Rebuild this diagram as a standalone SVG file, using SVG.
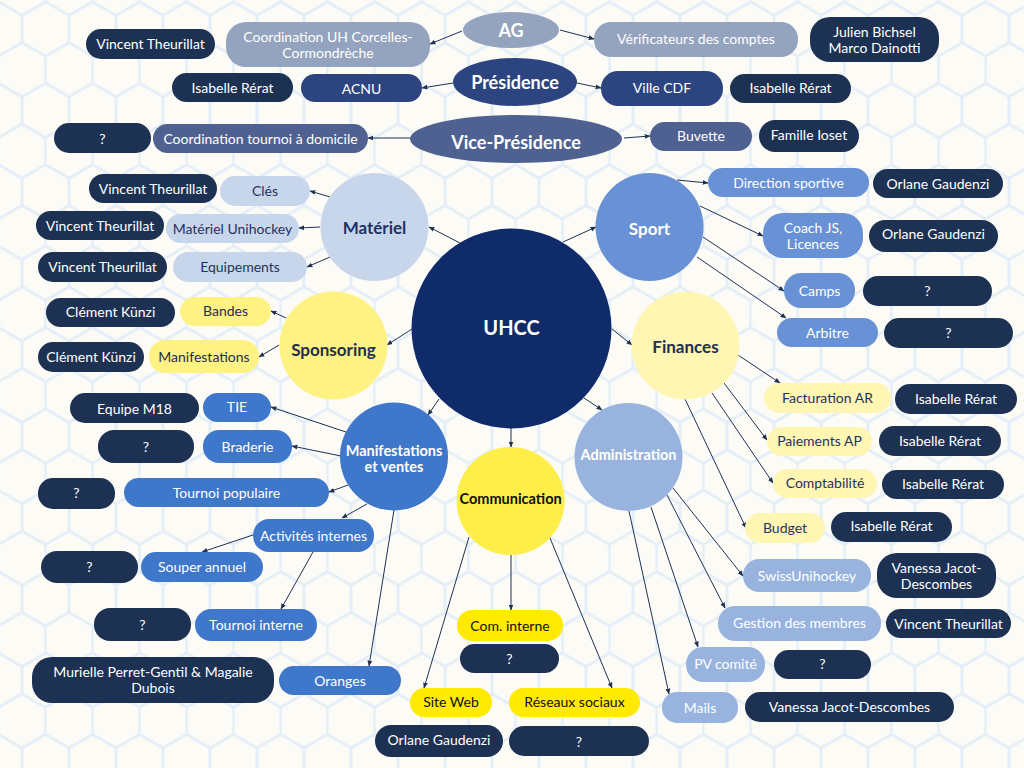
<svg xmlns="http://www.w3.org/2000/svg" width="1024" height="768" viewBox="0 0 1024 768">
<defs>
<pattern id="hex" width="47" height="81.4" patternUnits="userSpaceOnUse" patternTransform="translate(-1.5,29)">
<g fill="none" stroke="#e3eef8" stroke-width="2.5">
<path d="M0,-27.13 L23.5,-13.57 L23.5,13.57 L0,27.13 L-23.5,13.57 L-23.5,-13.57 Z"/>
<path d="M47,-27.13 L70.5,-13.57 L70.5,13.57 L47,27.13 L23.5,13.57 L23.5,-13.57 Z"/>
<path d="M0,54.27 L23.5,67.83 L23.5,94.97 L0,108.53 L-23.5,94.97 L-23.5,67.83 Z"/>
<path d="M47,54.27 L70.5,67.83 L70.5,94.97 L47,108.53 L23.5,94.97 L23.5,67.83 Z"/>
<path d="M23.5,13.57 L47,27.13 L47,54.27 L23.5,67.83 L0,54.27 L0,27.13 Z"/>
</g>
</pattern>
<marker id="a" viewBox="0 0 10 10" refX="9" refY="5" markerWidth="6" markerHeight="6" orient="auto" markerUnits="userSpaceOnUse">
<path d="M0,1 L10,5 L0,9 Z" fill="#1e3254"/>
</marker>
<style>
text{font-family:Lato,"DejaVu Sans",sans-serif;font-size:14px;text-anchor:middle;dominant-baseline:central}
.w{fill:#ffffff}.d{fill:#1f3263}.k{fill:#111111}
.b{font-weight:700;font-size:14.5px}
.h{font-size:17px;font-weight:700}
.e{font-size:18px;font-weight:700}
.p{fill:#1d3153}
.ag{fill:#94a3be}.pr{fill:#2c4580}.vp{fill:#4f6190}
.ma{fill:#c8d6ec}.sp{fill:#fef283}.so{fill:#6892d5}.fi{fill:#fff6b3}
.mv{fill:#3f77ca}.co{fill:#fdee4a}.ci{fill:#ffea00}.ad{fill:#98b4de}
#connectors line{stroke:#1e3254;stroke-width:1;marker-end:url(#a)}
</style>
</defs>
<rect width="1024" height="768" fill="#fdfbf6"/>
<rect width="1024" height="768" fill="url(#hex)"/>

<g id="connectors">
<line x1="462" y1="31" x2="430" y2="44"/>
<line x1="560" y1="30" x2="594" y2="39"/>
<line x1="453" y1="83" x2="422" y2="88"/>
<line x1="577" y1="83" x2="601" y2="88"/>
<line x1="410" y1="138" x2="368" y2="138"/>
<line x1="624" y1="138" x2="650" y2="136"/>
<line x1="460" y1="243" x2="429" y2="227"/>
<line x1="563" y1="242" x2="596" y2="227"/>
<line x1="412" y1="329" x2="387" y2="345"/>
<line x1="612" y1="329" x2="632" y2="345"/>
<line x1="439" y1="399" x2="428" y2="415"/>
<line x1="511" y1="428" x2="511" y2="447"/>
<line x1="584" y1="398" x2="602" y2="410"/>
<line x1="330" y1="197" x2="310" y2="191"/>
<line x1="320" y1="227" x2="299" y2="228"/>
<line x1="330" y1="257" x2="307" y2="267"/>
<line x1="286" y1="318" x2="271" y2="311"/>
<line x1="279" y1="345" x2="259" y2="357"/>
<line x1="677" y1="180" x2="708" y2="183"/>
<line x1="700" y1="206" x2="763" y2="236"/>
<line x1="703" y1="237" x2="784" y2="291"/>
<line x1="697" y1="257" x2="786" y2="318"/>
<line x1="738" y1="355" x2="780" y2="383"/>
<line x1="724" y1="383" x2="767" y2="440"/>
<line x1="712" y1="393" x2="773" y2="483"/>
<line x1="685" y1="399" x2="746" y2="528"/>
<line x1="673" y1="488" x2="743" y2="576"/>
<line x1="667" y1="495" x2="725" y2="608"/>
<line x1="651" y1="507" x2="698" y2="647"/>
<line x1="629" y1="511" x2="669" y2="694"/>
<line x1="511" y1="555" x2="511" y2="610"/>
<line x1="469" y1="537" x2="424" y2="688"/>
<line x1="550" y1="538" x2="612" y2="688"/>
<line x1="346" y1="432" x2="271" y2="407"/>
<line x1="341" y1="456" x2="292" y2="446"/>
<line x1="348" y1="485" x2="329" y2="492"/>
<line x1="367" y1="504" x2="342" y2="518"/>
<line x1="253" y1="535" x2="202" y2="552"/>
<line x1="313" y1="552" x2="281" y2="609"/>
<line x1="394" y1="510" x2="369" y2="666"/>
</g>

<g id="ag"><ellipse cx="511" cy="30" rx="48" ry="18" class="ag"/><text x="511" y="30" class="w e">AG</text></g>
<g id="presidence"><ellipse cx="515" cy="82" rx="62" ry="24" class="pr"/><text x="515" y="82" class="w e">Présidence</text></g>
<g id="vice-presidence"><ellipse cx="516" cy="139" rx="106" ry="24" class="vp"/><text x="516" y="142" class="w e">Vice-Présidence</text></g>

<g id="coord-uh"><rect x="226" y="22" width="204" height="45" rx="20" class="ag"/><text x="328" y="36" class="w">Coordination UH Corcelles-</text><text x="328" y="52" class="w">Cormondrèche</text></g>
<g id="vt-coord"><rect x="86" y="29" width="129" height="30" rx="15" class="p"/><text x="150.5" y="43" class="w">Vincent Theurillat</text></g>
<g id="ir-acnu"><rect x="172" y="73" width="121" height="29" rx="14.5" class="p"/><text x="232.5" y="87" class="w">Isabelle Rérat</text></g>
<g id="acnu"><rect x="301" y="74" width="121" height="28" rx="14" class="pr"/><text x="361.5" y="88" class="w">ACNU</text></g>
<g id="q-coord"><rect x="54" y="123" width="97" height="30" rx="15" class="p"/><text x="102.5" y="138" class="w">?</text></g>
<g id="coord-tournoi"><rect x="153" y="124" width="215" height="29" rx="14.5" class="vp"/><text x="260.5" y="138" class="w">Coordination tournoi à domicile</text></g>
<g id="verif"><rect x="594" y="22" width="204" height="35" rx="17" class="ag"/><text x="696" y="38" class="w">Vérificateurs des comptes</text></g>
<g id="jb-md"><rect x="810" y="17" width="129" height="45" rx="20" class="p"/><text x="874.5" y="31" class="w">Julien Bichsel</text><text x="874.5" y="47" class="w">Marco Dainotti</text></g>
<g id="ville-cdf"><rect x="601" y="71" width="122" height="35" rx="17" class="pr"/><text x="662" y="87" class="w">Ville CDF</text></g>
<g id="ir-ville"><rect x="730" y="74" width="121" height="29" rx="14.5" class="p"/><text x="790.5" y="87" class="w">Isabelle Rérat</text></g>
<g id="buvette"><rect x="650" y="122" width="102" height="29" rx="14.5" class="vp"/><text x="701" y="135" class="w">Buvette</text></g>
<g id="famille-ioset"><rect x="759" y="120" width="100" height="32" rx="16" class="p"/><text x="809" y="134" class="w">Famille Ioset</text></g>

<g id="uhcc"><circle cx="511.5" cy="328.5" r="100" fill="#0f2b69"/><text x="511.5" y="327" class="w h" style="font-size:20px">UHCC</text></g>

<g id="materiel"><circle cx="374.5" cy="227" r="54" class="ma"/><text x="374.5" y="227" class="d h">Matériel</text></g>
<g id="vt1"><rect x="89" y="174" width="128" height="29" rx="14.5" class="p"/><text x="153" y="188" class="w">Vincent Theurillat</text></g>
<g id="cles"><rect x="220" y="176" width="90" height="30" rx="15" class="ma"/><text x="265" y="190" class="d">Clés</text></g>
<g id="vt2"><rect x="36" y="211" width="128" height="29" rx="14.5" class="p"/><text x="100" y="225" class="w">Vincent Theurillat</text></g>
<g id="mat-uni"><rect x="166" y="214" width="133" height="29" rx="14.5" class="ma"/><text x="232.5" y="228" class="d">Matériel Unihockey</text></g>
<g id="vt3"><rect x="38" y="252" width="129" height="30" rx="15" class="p"/><text x="102.5" y="266" class="w">Vincent Theurillat</text></g>
<g id="equip"><rect x="173" y="252" width="134" height="30" rx="15" class="ma"/><text x="240" y="266" class="d">Equipements</text></g>

<g id="sponsoring"><circle cx="333.5" cy="345.5" r="54" class="sp"/><text x="333.5" y="349" class="h" fill="#1e2e4e">Sponsoring</text></g>
<g id="ck1"><rect x="46" y="298" width="129" height="29" rx="14.5" class="p"/><text x="110.5" y="311" class="w">Clément Künzi</text></g>
<g id="bandes"><rect x="180" y="297" width="91" height="29" rx="14.5" class="sp"/><text x="225.5" y="310" fill="#1e2e4e">Bandes</text></g>
<g id="ck2"><rect x="38" y="342" width="106" height="30" rx="15" class="p"/><text x="91" y="356" class="w">Clément Künzi</text></g>
<g id="manif-sp"><rect x="149" y="340" width="110" height="33" rx="16" class="sp"/><text x="204" y="356" fill="#1e2e4e">Manifestations</text></g>

<g id="sport"><circle cx="649.5" cy="227" r="54" class="so"/><text x="649.5" y="228" class="w h">Sport</text></g>
<g id="dir-sport"><rect x="708" y="168" width="161" height="29" rx="14.5" class="so"/><text x="788.5" y="182" class="w">Direction sportive</text></g>
<g id="og1"><rect x="873" y="169" width="130" height="29" rx="14.5" class="p"/><text x="938" y="183" class="w">Orlane Gaudenzi</text></g>
<g id="coach"><rect x="763" y="213" width="100" height="45" rx="20" class="so"/><text x="813" y="227" class="w">Coach JS,</text><text x="813" y="243" class="w">Licences</text></g>
<g id="og2"><rect x="869" y="220" width="129" height="32" rx="16" class="p"/><text x="933.5" y="233" class="w">Orlane Gaudenzi</text></g>
<g id="camps"><rect x="784" y="273" width="71" height="35" rx="17" class="so"/><text x="819.5" y="290" class="w">Camps</text></g>
<g id="q-camps"><rect x="863" y="276" width="129" height="30" rx="15" class="p"/><text x="927.5" y="290" class="w">?</text></g>
<g id="arbitre"><rect x="777" y="318" width="101" height="29" rx="14.5" class="so"/><text x="827.5" y="332" class="w">Arbitre</text></g>
<g id="q-arb"><rect x="884" y="318" width="129" height="30" rx="15" class="p"/><text x="948.5" y="332" class="w">?</text></g>

<g id="finances"><circle cx="685.5" cy="345.5" r="54" class="fi"/><text x="685.5" y="346" class="h" fill="#1e2e4e">Finances</text></g>
<g id="fact"><rect x="764" y="383" width="127" height="30" rx="15" class="fi"/><text x="827.5" y="397" class="d">Facturation AR</text></g>
<g id="ir-f1"><rect x="895" y="384" width="122" height="30" rx="15" class="p"/><text x="956" y="398" class="w">Isabelle Rérat</text></g>
<g id="paie"><rect x="767" y="427" width="105" height="29" rx="14.5" class="fi"/><text x="819.5" y="440" class="d">Paiements AP</text></g>
<g id="ir-f2"><rect x="879" y="426" width="122" height="30" rx="15" class="p"/><text x="940" y="440" class="w">Isabelle Rérat</text></g>
<g id="compta"><rect x="773" y="469" width="104" height="29" rx="14.5" class="fi"/><text x="825" y="482" class="d">Comptabilité</text></g>
<g id="ir-f3"><rect x="882" y="470" width="122" height="29" rx="14.5" class="p"/><text x="943" y="483" class="w">Isabelle Rérat</text></g>
<g id="budget"><rect x="745" y="513" width="80" height="30" rx="15" class="fi"/><text x="785" y="527" class="d">Budget</text></g>
<g id="ir-f4"><rect x="831" y="512" width="121" height="30" rx="15" class="p"/><text x="891.5" y="525" class="w">Isabelle Rérat</text></g>

<g id="administration"><circle cx="628.5" cy="457" r="54" class="ad"/><text x="628.5" y="454" class="w b">Administration</text></g>
<g id="swiss"><rect x="743" y="559" width="128" height="33" rx="16" class="ad"/><text x="807" y="575" class="w">SwissUnihockey</text></g>
<g id="vjd1"><rect x="877" y="553" width="119" height="45" rx="20" class="p"/><text x="936.5" y="567" class="w">Vanessa Jacot-</text><text x="936.5" y="583" class="w">Descombes</text></g>
<g id="gestion"><rect x="718" y="606" width="163" height="35" rx="17" class="ad"/><text x="799.5" y="622" class="w">Gestion des membres</text></g>
<g id="vt-adm"><rect x="886" y="609" width="125" height="29" rx="14.5" class="p"/><text x="948.5" y="623" class="w">Vincent Theurillat</text></g>
<g id="pv"><rect x="686" y="647" width="79" height="35" rx="17" class="ad"/><text x="725.5" y="663" class="w">PV comité</text></g>
<g id="q-pv"><rect x="774" y="650" width="97" height="29" rx="14.5" class="p"/><text x="822.5" y="663" class="w">?</text></g>
<g id="mails"><rect x="662" y="692" width="76" height="31" rx="15" class="ad"/><text x="700" y="707" class="w">Mails</text></g>
<g id="vjd2"><rect x="745" y="692" width="209" height="30" rx="15" class="p"/><text x="849.5" y="706" class="w">Vanessa Jacot-Descombes</text></g>

<g id="communication"><circle cx="510.6" cy="501" r="54" class="co"/><text x="510.6" y="498" class="k b">Communication</text></g>
<g id="com-int"><rect x="457" y="610" width="106" height="31" rx="15" class="ci"/><text x="510" y="625" class="k">Com. interne</text></g>
<g id="q-com"><rect x="460" y="644" width="99" height="29" rx="14.5" class="p"/><text x="509.5" y="658" class="w">?</text></g>
<g id="site"><rect x="410" y="688" width="82" height="29" rx="14.5" class="ci"/><text x="451" y="701" class="k">Site Web</text></g>
<g id="reseaux"><rect x="509" y="688" width="131" height="29" rx="14.5" class="ci"/><text x="574.5" y="701" class="k">Réseaux sociaux</text></g>
<g id="og-com"><rect x="375" y="725" width="128" height="32" rx="16" class="p"/><text x="439" y="739" class="w">Orlane Gaudenzi</text></g>
<g id="q-res"><rect x="509" y="726" width="140" height="30" rx="15" class="p"/><text x="579" y="741" class="w">?</text></g>

<g id="manifestations"><circle cx="394" cy="456.5" r="54" class="mv"/><text x="394" y="450" class="w b">Manifestations</text><text x="394" y="466" class="w b">et ventes</text></g>
<g id="m18"><rect x="70" y="393" width="129" height="30" rx="15" class="p"/><text x="134.5" y="408" class="w">Equipe M18</text></g>
<g id="tie"><rect x="203" y="393" width="68" height="29" rx="14.5" class="mv"/><text x="237" y="406" class="w">TIE</text></g>
<g id="q-brad"><rect x="98" y="430" width="96" height="33" rx="16" class="p"/><text x="146" y="446" class="w">?</text></g>
<g id="braderie"><rect x="203" y="430" width="89" height="33" rx="16" class="mv"/><text x="247.5" y="446" class="w">Braderie</text></g>
<g id="q-tp"><rect x="38" y="478" width="77" height="31" rx="15" class="p"/><text x="76.5" y="492" class="w">?</text></g>
<g id="tp"><rect x="124" y="478" width="205" height="29" rx="14.5" class="mv"/><text x="226.5" y="492" class="w">Tournoi populaire</text></g>
<g id="act"><rect x="253" y="519" width="121" height="33" rx="16" class="mv"/><text x="313.5" y="535" class="w">Activités internes</text></g>
<g id="q-sa"><rect x="41" y="551" width="97" height="32" rx="16" class="p"/><text x="89.5" y="566" class="w">?</text></g>
<g id="souper"><rect x="141" y="552" width="122" height="30" rx="15" class="mv"/><text x="202" y="566" class="w">Souper annuel</text></g>
<g id="q-ti"><rect x="94" y="608" width="97" height="33" rx="16" class="p"/><text x="142.5" y="624" class="w">?</text></g>
<g id="ti"><rect x="195" y="609" width="122" height="32" rx="16" class="mv"/><text x="256" y="624" class="w">Tournoi interne</text></g>
<g id="mp-md"><rect x="32" y="657" width="242" height="46" rx="20" class="p"/><text x="153" y="671" class="w">Murielle Perret-Gentil &amp; Magalie</text><text x="153" y="687" class="w">Dubois</text></g>
<g id="oranges"><rect x="279" y="666" width="122" height="29" rx="14.5" class="mv"/><text x="340" y="680" class="w">Oranges</text></g>
</svg>
